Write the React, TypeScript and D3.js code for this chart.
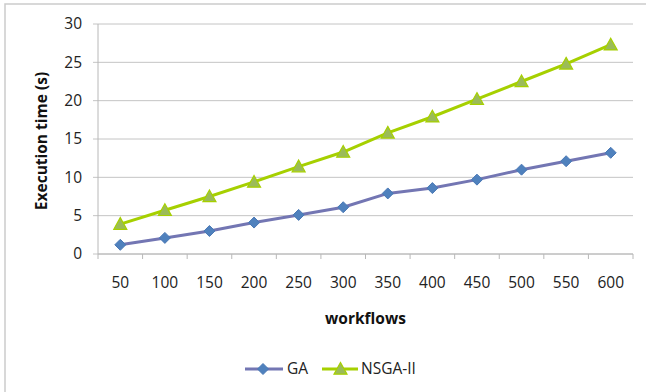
import React from "react";
import * as d3 from "d3";

// Execution time (s) per number of workflows
const workflows = ["50", "100", "150", "200", "250", "300", "350", "400", "450", "500", "550", "600"];
const gaTimes = [1.2, 2.1, 3.0, 4.1, 5.1, 6.1, 7.9, 8.6, 9.7, 11.0, 12.1, 13.2];
const nsgaTimes = [3.9, 5.7, 7.5, 9.4, 11.4, 13.3, 15.8, 17.9, 20.2, 22.5, 24.8, 27.3];
const yTicks = [0, 5, 10, 15, 20, 25, 30];
const seriesNames = ["GA", "NSGA-II"];

const W = 646;
const H = 392;
const FONT = "'Open Sans', 'Noto Sans', sans-serif";

const plot = { left: 98, right: 633, top: 24, bottom: 254 };

const GA_LINE = "#7376b3";
const GA_FILL = "#4f81bd";
const NS_LINE = "#a6d000";
const NS_FILL = "#9bbb59";

function Diamond({ x, y, r = 5.5 }: { x: number; y: number; r?: number }) {
  return (
    <path
      d={`M${x},${y - r}L${x + r},${y}L${x},${y + r}L${x - r},${y}Z`}
      fill={GA_FILL}
      stroke="#4a78b5"
      strokeWidth={1}
    />
  );
}

function Triangle({ x, y, r = 6.5 }: { x: number; y: number; r?: number }) {
  return (
    <path
      d={`M${x},${y - r}L${x + r},${y + r * 0.8}L${x - r},${y + r * 0.8}Z`}
      fill={NS_FILL}
      stroke={NS_LINE}
      strokeWidth={1.2}
    />
  );
}

export default function App() {
  const x = d3.scaleBand<string>().domain(workflows).range([plot.left, plot.right]);
  const y = d3.scaleLinear().domain([0, 30]).range([plot.bottom, plot.top]);
  const cx = (c: string) => (x(c) as number) + x.bandwidth() / 2;

  const line = d3
    .line<number>()
    .x((_, i) => cx(workflows[i]))
    .y((v) => y(v));

  const boundaries = workflows.map((c) => x(c) as number).concat([plot.right]);

  return (
    <svg
      width={W}
      height={H}
      style={{ position: "absolute", left: 0, top: 0, background: "#fff" }}
      fontFamily={FONT}
    >
      {/* chart frame */}
      <rect x={5} y={4} width={W + 20} height={H + 20} fill="none" stroke="#cbcbcb" strokeWidth={1.5} />

      {/* horizontal gridlines with outside ticks */}
      {yTicks.map((t) => (
        <g key={t}>
          <line x1={plot.left - 5} x2={plot.right} y1={y(t)} y2={y(t)} stroke="#c4c4c4" strokeWidth={1} />
          <text x={82} y={y(t)} dy="0.35em" textAnchor="end" fontSize={15.5} fill="#222">
            {t}
          </text>
        </g>
      ))}

      {/* axes */}
      <line x1={plot.left} x2={plot.left} y1={plot.top} y2={plot.bottom} stroke="#b8b8b8" strokeWidth={1} />
      <line x1={plot.left} x2={plot.right} y1={plot.bottom} y2={plot.bottom} stroke="#b8b8b8" strokeWidth={1} />
      {boundaries.map((b, i) => (
        <line key={i} x1={b} x2={b} y1={plot.bottom} y2={plot.bottom + 5} stroke="#b8b8b8" strokeWidth={1} />
      ))}
      {workflows.map((c) => (
        <text key={c} x={cx(c)} y={283} dy="0.35em" textAnchor="middle" fontSize={15.5} fill="#222">
          {c}
        </text>
      ))}

      {/* axis titles */}
      <text x={365.5} y={319} dy="0.35em" textAnchor="middle" fontSize={15.5} fontWeight="bold" fill="#111">
        workflows
      </text>
      <text
        transform={`translate(42,141) rotate(-90)`}
        dy="0.35em"
        textAnchor="middle"
        fontSize={15.5}
        fontWeight="bold"
        fill="#111"
      >
        Execution time (s)
      </text>

      {/* series */}
      <path d={line(gaTimes) ?? ""} fill="none" stroke={GA_LINE} strokeWidth={3} strokeLinejoin="round" />
      <path d={line(nsgaTimes) ?? ""} fill="none" stroke={NS_LINE} strokeWidth={3} strokeLinejoin="round" />
      {gaTimes.map((v, i) => (
        <Diamond key={`g${i}`} x={cx(workflows[i])} y={y(v)} />
      ))}
      {nsgaTimes.map((v, i) => (
        <Triangle key={`n${i}`} x={cx(workflows[i])} y={y(v)} />
      ))}

      {/* legend */}
      <g>
        <line x1={245} x2={283} y1={369} y2={369} stroke={GA_LINE} strokeWidth={3} />
        <Diamond x={263} y={369} />
        <text x={287} y={369} dy="0.35em" fontSize={15.5} fill="#222">
          {seriesNames[0]}
        </text>
        <line x1={322} x2={358} y1={369} y2={369} stroke={NS_LINE} strokeWidth={3} />
        <Triangle x={340.5} y={369} />
        <text x={361} y={369} dy="0.35em" fontSize={15.5} fill="#222">
          {seriesNames[1]}
        </text>
      </g>
    </svg>
  );
}
